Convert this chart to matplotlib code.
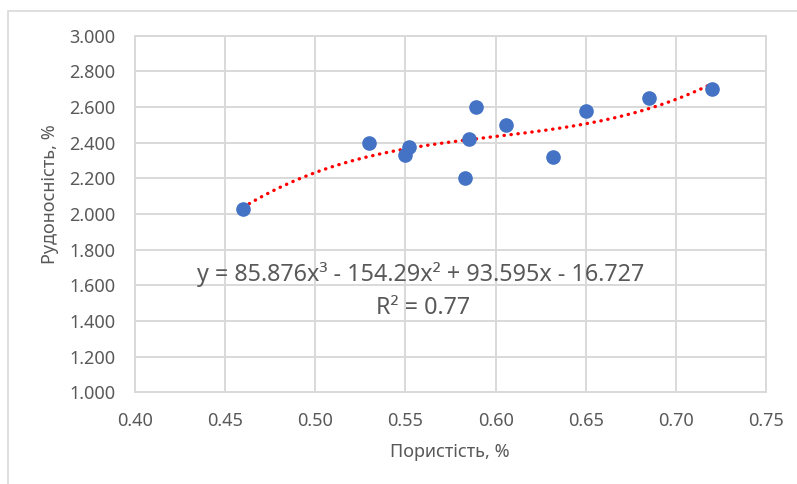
import matplotlib.pyplot as plt
import matplotlib.patches as patches
import numpy as np

# data
porosity = [0.46, 0.53, 0.55, 0.552, 0.583, 0.585, 0.589, 0.606, 0.632, 0.65, 0.685, 0.72]
ore_content = [2.03, 2.40, 2.33, 2.375, 2.20, 2.42, 2.60, 2.50, 2.32, 2.58, 2.65, 2.70]
trend_coefs = [85.876, -154.29, 93.595, -16.727]

x_ticks = [0.40, 0.45, 0.50, 0.55, 0.60, 0.65, 0.70, 0.75]
y_ticks = [1.0, 1.2, 1.4, 1.6, 1.8, 2.0, 2.2, 2.4, 2.6, 2.8, 3.0]

plt.rcParams['font.family'] = ['Noto Sans', 'DejaVu Sans']
grey_text = '#595959'
grid_col = '#d9d9d9'

fig = plt.figure(figsize=(7.97, 4.84), dpi=100)
ax = fig.add_axes([135/797, 1 - 392.3/484, (766 - 135)/797, (392.3 - 35.7)/484])

# outer chart border
fig.patches.append(patches.Rectangle((8/797, -0.05), 1.1, 1 - 10.7/484 + 0.05,
                                     transform=fig.transFigure, fill=False,
                                     edgecolor=grid_col, linewidth=1.2))

ax.set_xlim(0.40, 0.75)
ax.set_ylim(1.0, 3.0)
ax.set_xticks(x_ticks)
ax.set_yticks(y_ticks)
ax.set_xticklabels(['%.2f' % v for v in x_ticks])
ax.set_yticklabels(['%.3f' % v for v in y_ticks])
ax.tick_params(length=0, labelsize=13, labelcolor=grey_text)
ax.tick_params(axis='x', pad=14)
ax.tick_params(axis='y', pad=14)
ax.grid(True, color=grid_col, linewidth=1.4)
ax.set_axisbelow(True)
for s in ax.spines.values():
    s.set_color(grid_col)
    s.set_linewidth(1.4)

# polynomial trendline
xs = np.linspace(min(porosity), max(porosity), 200)
ax.plot(xs, np.polyval(trend_coefs, xs), color='#ff0000', linewidth=2.4,
        linestyle=(0, (0.1, 2.0)), dash_capstyle='round', zorder=2)

ax.plot(porosity, ore_content, 'o', color='#4472c4', markersize=9.5, zorder=3)

ax.text(0.5585, 1.658, 'y = 85.876x³ - 154.29x² + 93.595x - 16.727', fontsize=16.8,
        color=grey_text, ha='center', va='center')
ax.text(0.5596, 1.473, 'R² = 0.77', fontsize=16.8, color=grey_text, ha='center', va='center')

fig.text(450/797, 1 - 451.7/484, 'Пористість, %', fontsize=13, color=grey_text,
         ha='center', va='center')
fig.text(50/797, 1 - 194/484, 'Рудоносність, %', fontsize=13, color=grey_text,
         ha='center', va='center', rotation=90)

fig.savefig('out.png', dpi=100)
